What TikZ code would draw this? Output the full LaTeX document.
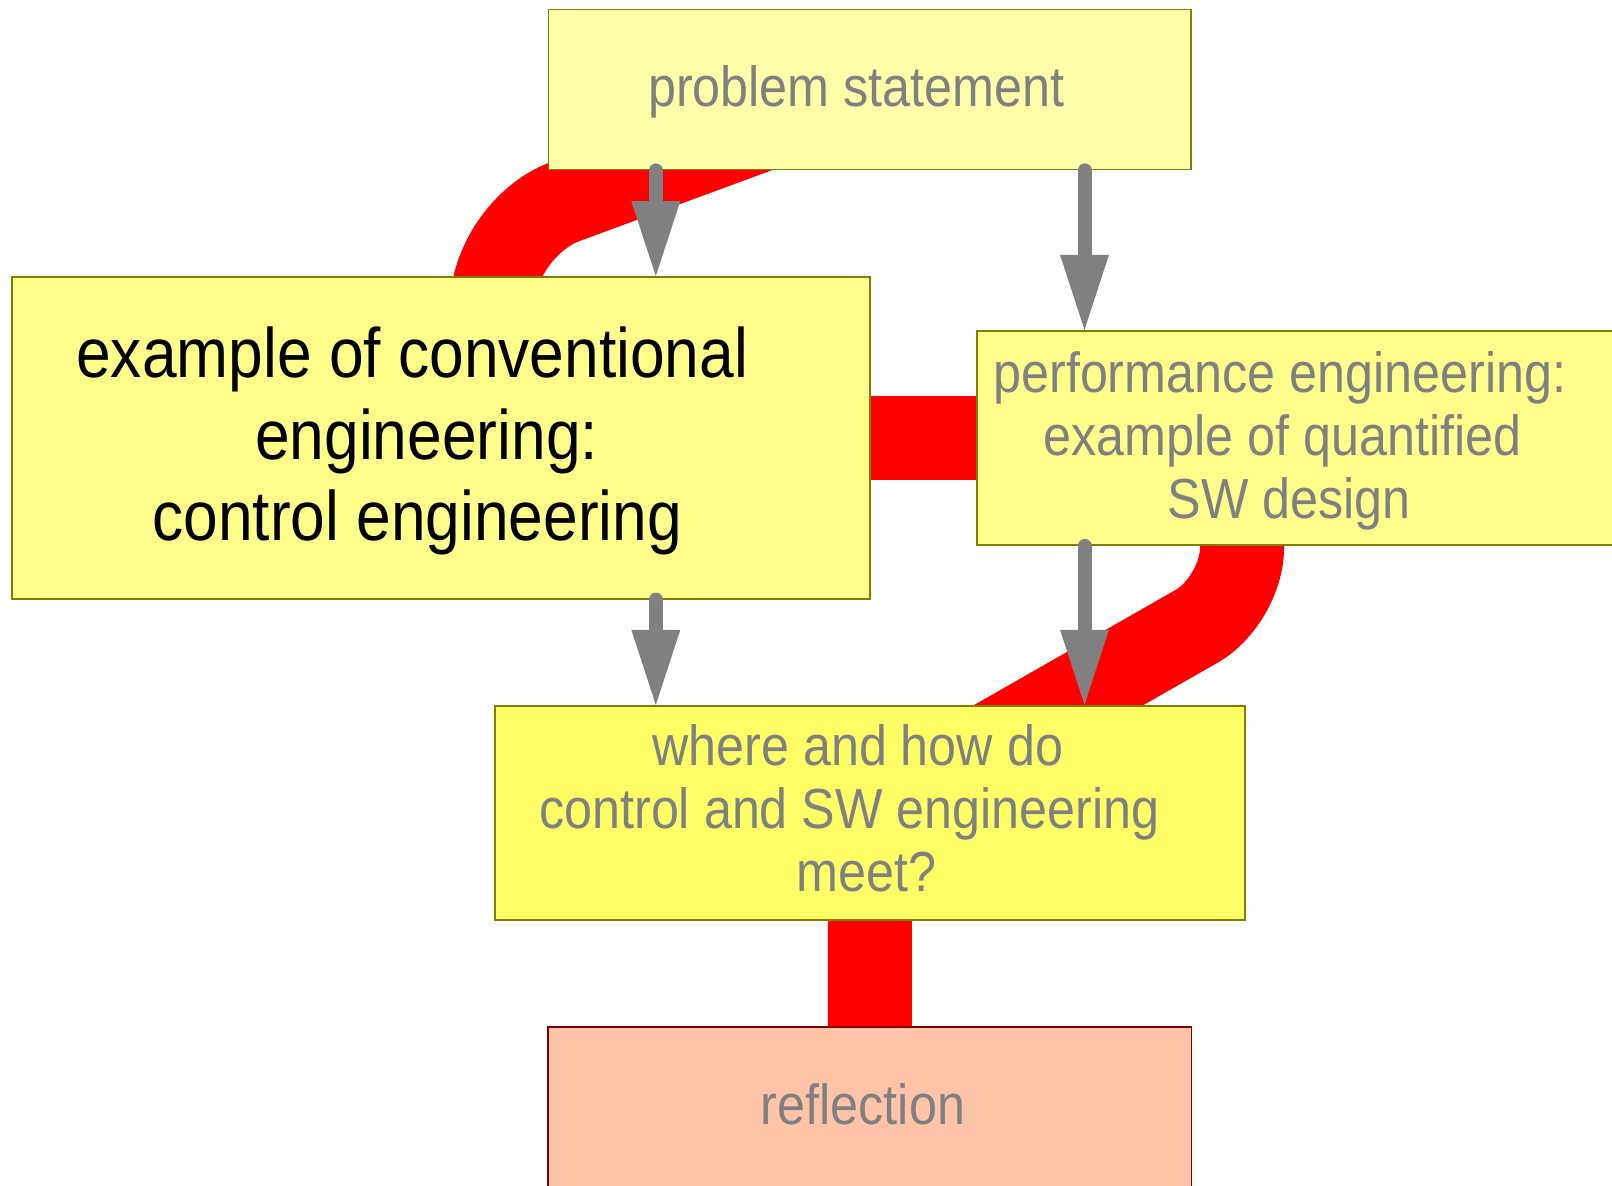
\documentclass[tikz,border=0pt]{standalone}
\usepackage{fontspec}
\setmainfont{Liberation Sans}[FakeStretch=0.89]
\usetikzlibrary{arrows.meta}

\definecolor{flowred}{HTML}{FF0000}
\definecolor{txtgray}{HTML}{808080}
\definecolor{boxline}{HTML}{808000}
\definecolor{paleyellow}{HTML}{FFFFAA}
\definecolor{midyellow}{HTML}{FFFF8C}
\definecolor{deepyellow}{HTML}{FFFF66}
\definecolor{peach}{HTML}{FFC4A8}
\definecolor{darkred}{HTML}{800000}

% centred lines whose first baseline is the baseline of the whole block
\newcommand\stacklines[1]{\vtop{\halign{\hfil##\hfil\cr#1\crcr}}}
\newcommand\graytext{\fontsize{56.5}{63.2}\selectfont}
\newcommand\bigtext{\fontsize{70}{81.5}\selectfont}

\pgfdeclarelayer{background}
\pgfsetlayers{background,main}

\begin{document}
\begin{tikzpicture}[x=1pt,y=-1pt,
  box/.style={draw=boxline, line width=1.8pt, inner sep=0pt},
  flow/.style={draw=flowred, line width=84pt},
  garrow/.style={draw=txtgray, line width=14pt, line cap=round,
    -{Triangle[length=75pt,width=49pt,line width=0pt]}},
  lbl/.style={anchor=base, inner sep=0pt, text=txtgray, font=\graytext}]
\useasboundingbox (0,0) rectangle (1612,1186);

% boxes
\node[box, fill=paleyellow, minimum width=642.6pt, minimum height=160pt] (ps) at (869.7,89.5) {};
\node[box, fill=midyellow, minimum width=858pt, minimum height=321.7pt] (ce) at (441.3,437.85) {};
\node[box, fill=midyellow, minimum width=672.7pt, minimum height=214.3pt] (pe) at (1313.65,437.85) {};
\node[box, fill=deepyellow, minimum width=750.2pt, minimum height=214.3pt] (wh) at (869.9,812.85) {};
\node[box, draw=darkred, fill=peach, minimum width=643.2pt, minimum height=192.7pt] (rf) at (869.8,1123.65) {};

% bends of the storyline
\coordinate (ka) at (492,228.5);
\coordinate (kb) at (1242,600.4);

% red storyline running behind the boxes
\begin{pgfonlayer}{background}
\fill[white] (0,0) rectangle (1612,1186);
\draw[flow, rounded corners=78pt] (ps.center) -- (ka) |- (ce.center);
\draw[flow] (ce.center) -- (pe.center);
\draw[flow, rounded corners=52pt] (pe.center) -| (kb) -- (wh.center);
\draw[flow] (wh.center) -- (rf.center);
\end{pgfonlayer}

% labels
\node[lbl] (ps-t) at (856.4,106) {problem statement};
\node[lbl, text=black, font=\bigtext] (ce-t) at (412.3,377.5)
  {\stacklines{example of conventional\cr\kern28.6pt engineering:\cr\kern10pt control engineering}};
\node[lbl] (pe-t) at (1279.9,392)
  {\stacklines{performance engineering:\cr\kern6pt example of quantified\cr\kern18.6pt SW design}};
\node[lbl] (wh-t) at (849.5,765)
  {\stacklines{\kern16.4pt where and how do\cr control and SW engineering\cr\kern33.8pt meet?}};
\node[lbl] (rf-t) at (863,1124.5) {reflection};

% grey dependency arrows
\coordinate (xa) at (655.8,0);
\coordinate (xb) at (1084.5,0);
\draw[garrow] (ps.south -| xa) -- (ce.north -| xa);
\draw[garrow] (ps.south -| xb) -- (pe.north -| xb);
\draw[garrow] (ce.south -| xa) -- (wh.north -| xa);
\draw[garrow] (pe.south -| xb) -- (wh.north -| xb);
\end{tikzpicture}
\end{document}
